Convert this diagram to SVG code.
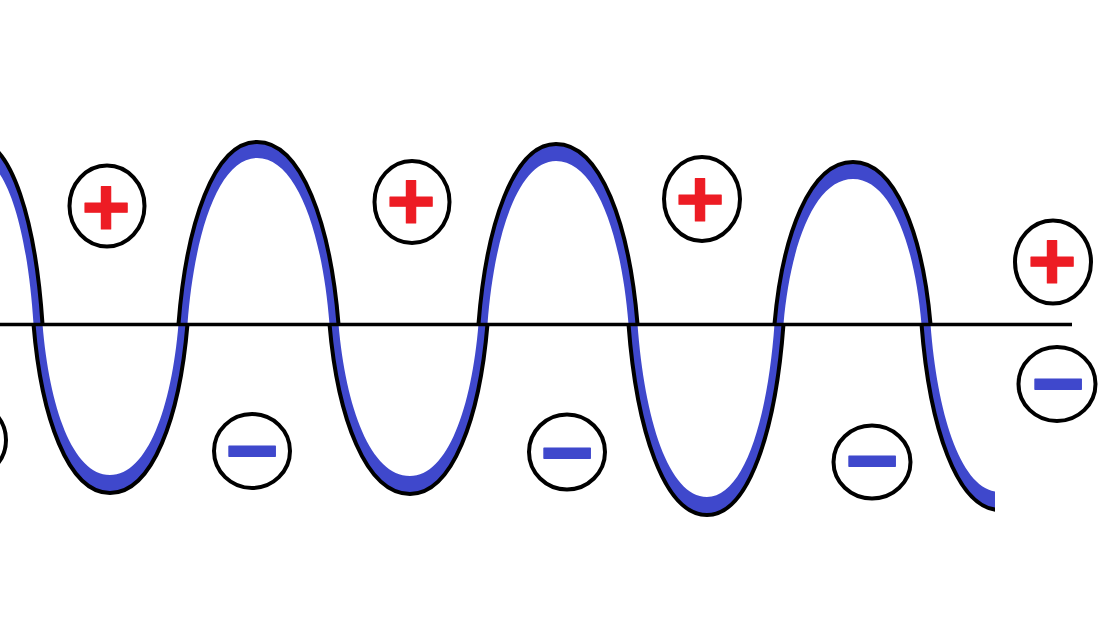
<svg xmlns="http://www.w3.org/2000/svg" width="1105" height="622" viewBox="0 0 1105 622">
<style>
.band{fill:#3f48cc;stroke:none}
.edge{fill:none;stroke:#000;stroke-width:4;stroke-linecap:butt}
.ring{fill:none;stroke:#000;stroke-width:4}
.plus{font-family:"Liberation Sans",Arial,sans-serif;font-weight:bold;font-size:84px;fill:#ed1c24;stroke:#ed1c24;stroke-width:1.2;stroke-linejoin:round;text-anchor:middle}
.minus{font-family:"Liberation Sans",Arial,sans-serif;font-weight:bold;font-size:92px;fill:#3f48cc;stroke:#3f48cc;stroke-width:1.5;stroke-linejoin:round;text-anchor:middle}
</style>
<defs>
<clipPath id="clipw"><rect x="0" y="0" width="995" height="622"/></clipPath>
</defs>
<rect x="0" y="0" width="1105" height="622" fill="#fff"/>
<g id="wave" clip-path="url(#clipw)">
<g id="lobe0">
<path class="band" d="M-114.5,324 C-105.55,222.8 -74.2,140 -25,140 C12.1,140 35.75,222.8 42.5,324 L33.5,324 C27.65,232.15 7.2,157 -25,157 C-69.3,157 -97.45,232.15 -105.5,324 Z"/>
<path class="edge" d="M-114.5,324 C-105.55,222.8 -74.2,140 -25,140 C12.1,140 35.75,222.8 42.5,324"/>
</g>
<g id="lobe1">
<path class="band" d="M33.5,324 C41.15,417 67.9,493 110,493 C152.6,493 179.75,417 187.5,324 L178.5,324 C171.65,407 147.7,475 110,475 C72.9,475 49.25,407 42.5,324 Z"/>
<path class="edge" d="M33.5,324 C41.15,417 67.9,493 110,493 C152.6,493 179.75,417 187.5,324"/>
</g>
<g id="lobe2">
<path class="band" d="M178.5,324 C186.35,223.9 213.8,142 257,142 C301.8,142 330.35,223.9 338.5,324 L329.5,324 C322.25,232.7 296.9,158 257,158 C218.8,158 194.45,232.7 187.5,324 Z"/>
<path class="edge" d="M178.5,324 C186.35,223.9 213.8,142 257,142 C301.8,142 330.35,223.9 338.5,324"/>
</g>
<g id="lobe3">
<path class="band" d="M329.5,324 C337.55,417.5 365.7,494 410,494 C452.6,494 479.75,417.5 487.5,324 L478.5,324 C471.65,407.6 447.7,476 410,476 C370.7,476 345.65,407.6 338.5,324 Z"/>
<path class="edge" d="M329.5,324 C337.55,417.5 365.7,494 410,494 C452.6,494 479.75,417.5 487.5,324"/>
</g>
<g id="lobe4">
<path class="band" d="M478.5,324 C486.25,225 513.4,144 556,144 C600.8,144 629.35,225 637.5,324 L628.5,324 C621.25,234.35 595.9,161 556,161 C518.3,161 494.35,234.35 487.5,324 Z"/>
<path class="edge" d="M478.5,324 C486.25,225 513.4,144 556,144 C600.8,144 629.35,225 637.5,324"/>
</g>
<g id="lobe5">
<path class="band" d="M628.5,324 C636.35,429 663.8,515 707,515 C749.1,515 775.85,429 783.5,324 L774.5,324 C767.75,419.15 744.1,497 707,497 C668.8,497 644.45,419.15 637.5,324 Z"/>
<path class="edge" d="M628.5,324 C636.35,429 663.8,515 707,515 C749.1,515 775.85,429 783.5,324"/>
</g>
<g id="lobe6">
<path class="band" d="M774.5,324 C782.35,234.9 809.8,162 853,162 C895.6,162 922.75,234.9 930.5,324 L921.5,324 C914.65,244.25 890.7,179 853,179 C814.8,179 790.45,244.25 783.5,324 Z"/>
<path class="edge" d="M774.5,324 C782.35,234.9 809.8,162 853,162 C895.6,162 922.75,234.9 930.5,324"/>
</g>
<g id="lobe7">
<path class="band" d="M921.5,324 C929.35,426.3 956.8,510 1000,510 C1043.7,510 1071.55,426.3 1079.5,324 L1070.5,324 C1063.45,416.4 1038.8,492 1000,492 C961.8,492 937.45,416.4 930.5,324 Z"/>
<path class="edge" d="M921.5,324 C929.35,426.3 956.8,510 1000,510 C1043.7,510 1071.55,426.3 1079.5,324"/>
</g>
</g>
<g id="connectors">
<line id="axis" x1="0" y1="324.5" x2="1072" y2="324.5" stroke="#000" stroke-width="3.5"/>
</g>
<g id="charge-partial"><circle class="ring" cx="-32" cy="440" r="38"/></g>
<g id="plus1"><ellipse class="ring" cx="107" cy="206" rx="37.5" ry="40.5"/><text class="plus" x="106" y="236">+</text></g>
<g id="minus1"><ellipse class="ring" cx="252" cy="451" rx="38" ry="37"/><text class="minus" x="252" y="482">−</text></g>
<g id="plus2"><ellipse class="ring" cx="412" cy="202" rx="37.5" ry="41"/><text class="plus" x="411" y="230">+</text></g>
<g id="minus2"><ellipse class="ring" cx="567" cy="452" rx="38" ry="37.5"/><text class="minus" x="567" y="484">−</text></g>
<g id="plus3"><ellipse class="ring" cx="702" cy="199" rx="38" ry="42"/><text class="plus" x="700" y="228">+</text></g>
<g id="minus3"><ellipse class="ring" cx="872" cy="462" rx="38.5" ry="36.5"/><text class="minus" x="872" y="492">−</text></g>
<g id="plus4"><ellipse class="ring" cx="1053" cy="262" rx="38" ry="41.5"/><text class="plus" x="1052" y="290">+</text></g>
<g id="minus4"><ellipse class="ring" cx="1057" cy="384" rx="38.5" ry="37"/><text class="minus" x="1058" y="415">−</text></g>
</svg>
